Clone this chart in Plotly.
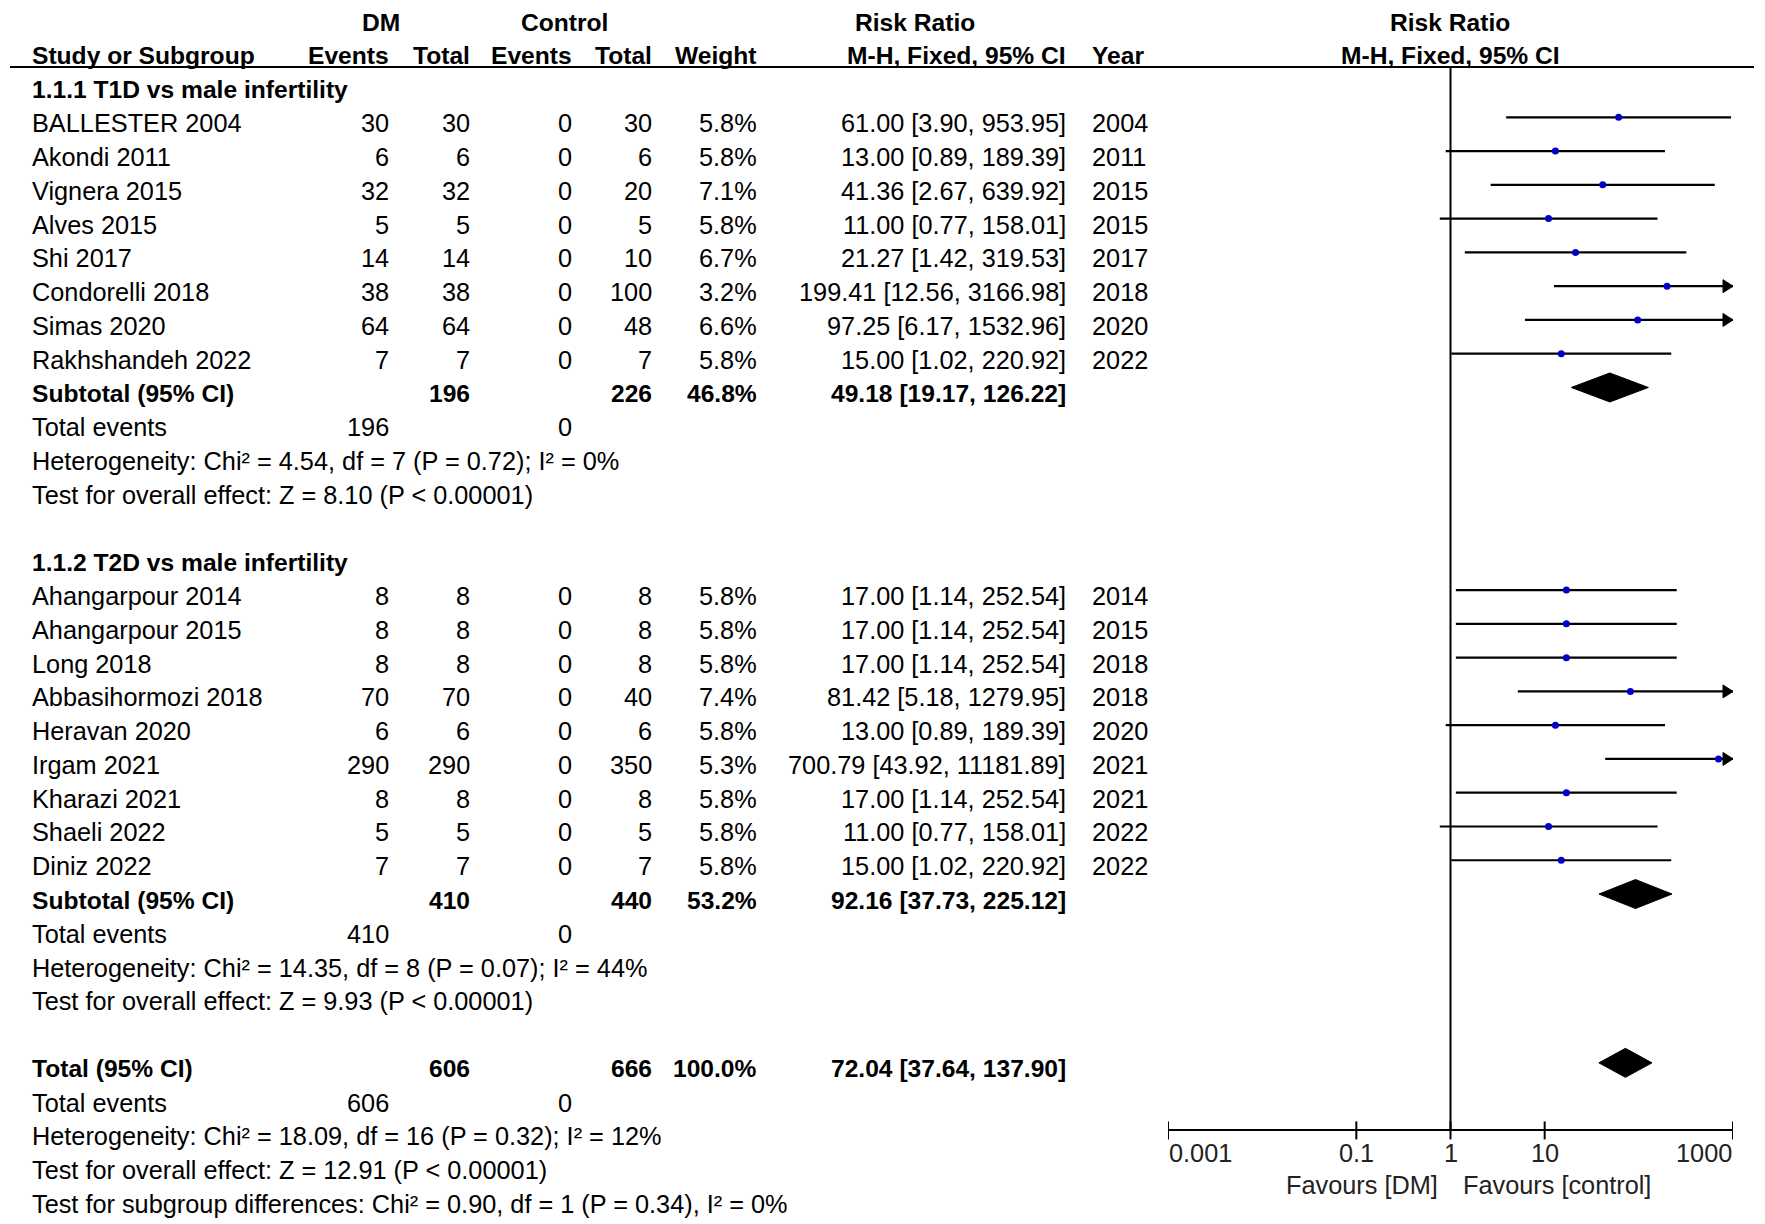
import math
import plotly.graph_objects as go

# ---------------- data ----------------
group_titles = ["1.1.1 T1D vs male infertility", "1.1.2 T2D vs male infertility"]

names_t1d = ["BALLESTER 2004", "Akondi 2011", "Vignera 2015", "Alves 2015", "Shi 2017",
             "Condorelli 2018", "Simas 2020", "Rakhshandeh 2022"]
dm_events_t1d = [30, 6, 32, 5, 14, 38, 64, 7]
dm_total_t1d = [30, 6, 32, 5, 14, 38, 64, 7]
ctrl_events_t1d = [0, 0, 0, 0, 0, 0, 0, 0]
ctrl_total_t1d = [30, 6, 20, 5, 10, 100, 48, 7]
weight_t1d = [5.8, 5.8, 7.1, 5.8, 6.7, 3.2, 6.6, 5.8]
rr_t1d = [61.00, 13.00, 41.36, 11.00, 21.27, 199.41, 97.25, 15.00]
lo_t1d = [3.90, 0.89, 2.67, 0.77, 1.42, 12.56, 6.17, 1.02]
hi_t1d = [953.95, 189.39, 639.92, 158.01, 319.53, 3166.98, 1532.96, 220.92]
year_t1d = [2004, 2011, 2015, 2015, 2017, 2018, 2020, 2022]

names_t2d = ["Ahangarpour 2014", "Ahangarpour 2015", "Long 2018", "Abbasihormozi 2018",
             "Heravan 2020", "Irgam 2021", "Kharazi 2021", "Shaeli 2022", "Diniz 2022"]
dm_events_t2d = [8, 8, 8, 70, 6, 290, 8, 5, 7]
dm_total_t2d = [8, 8, 8, 70, 6, 290, 8, 5, 7]
ctrl_events_t2d = [0, 0, 0, 0, 0, 0, 0, 0, 0]
ctrl_total_t2d = [8, 8, 8, 40, 6, 350, 8, 5, 7]
weight_t2d = [5.8, 5.8, 5.8, 7.4, 5.8, 5.3, 5.8, 5.8, 5.8]
rr_t2d = [17.00, 17.00, 17.00, 81.42, 13.00, 700.79, 17.00, 11.00, 15.00]
lo_t2d = [1.14, 1.14, 1.14, 5.18, 0.89, 43.92, 1.14, 0.77, 1.02]
hi_t2d = [252.54, 252.54, 252.54, 1279.95, 189.39, 11181.89, 252.54, 158.01, 220.92]
year_t2d = [2014, 2015, 2018, 2018, 2020, 2021, 2021, 2022, 2022]

# subtotals: [T1D, T2D]
sub_dm_total = [196, 410]
sub_ctrl_total = [226, 440]
sub_weight = [46.8, 53.2]
sub_rr = [49.18, 92.16]
sub_lo = [19.17, 37.73]
sub_hi = [126.22, 225.12]
sub_dm_events = [196, 410]
sub_ctrl_events = [0, 0]
sub_het = ["Heterogeneity: Chi² = 4.54, df = 7 (P = 0.72); I² = 0%",
           "Heterogeneity: Chi² = 14.35, df = 8 (P = 0.07); I² = 44%"]
sub_effect = ["Test for overall effect: Z = 8.10 (P &lt; 0.00001)",
              "Test for overall effect: Z = 9.93 (P &lt; 0.00001)"]

total_dm_total = 606
total_ctrl_total = 666
total_weight = 100.0
total_rr = 72.04
total_lo = 37.64
total_hi = 137.90
total_dm_events = 606
total_ctrl_events = 0
total_het = "Heterogeneity: Chi² = 18.09, df = 16 (P = 0.32); I² = 12%"
total_effect = "Test for overall effect: Z = 12.91 (P &lt; 0.00001)"
total_subgroup = "Test for subgroup differences: Chi² = 0.90, df = 1 (P = 0.34), I² = 0%"

tick_values = [0.001, 0.1, 1, 10, 1000]
tick_labels = ["0.001", "0.1", "1", "10", "1000"]
favours_left = "Favours [DM]"
favours_right = "Favours [control]"

# ---------------- layout constants ----------------
W, H = 1765, 1224
ROW = 33.77          # pixels per row
TOP = 16.0           # pixel of row-0 marker centre
TEXT_DY = 6.0 / ROW  # text sits a little lower than the marks
AX_LEFT, AX_RIGHT = 1168, 1733
LOG_MIN, LOG_MAX = -3, 3
PX_PER_DEC = (AX_RIGHT - AX_LEFT) / (LOG_MAX - LOG_MIN)
FONT = "Liberation Sans, Arial, Helvetica, sans-serif"
REG = 25.3
BLD = 24.6

COL_STUDY = 31
COL_DM_EV = 390
COL_DM_TOT = 471
COL_CT_EV = 573
COL_CT_TOT = 653
COL_W = 758
COL_RR = 1067
COL_RR_HDR = 854
COL_YEAR = 1091

annotations = []


def txt(xpx, k, text, anchor="left", bold=False, color="#000000", size=None, dy=TEXT_DY):
    annotations.append(dict(
        x=xpx / W, xref="paper", y=k + dy, yref="y", text=text, showarrow=False,
        xanchor=anchor, yanchor="middle", borderpad=0,
        font=dict(family=FONT, size=size or (BLD if bold else REG), color=color,
                  weight="bold" if bold else "normal")))


def ci_text(r, l, h):
    return f"{r:.2f} [{l:.2f}, {h:.2f}]"


# headers
txt(380.5, 0, "DM", "center", True)
txt(564, 0, "Control", "center", True)
txt(COL_RR_HDR, 0, "Risk Ratio", "left", True)
txt(1450, 0, "Risk Ratio", "center", True)
txt(COL_STUDY, 1, "Study or Subgroup", "left", True)
txt(COL_DM_EV, 1, "Events", "right", True)
txt(COL_DM_TOT, 1, "Total", "right", True)
txt(COL_CT_EV, 1, "Events", "right", True)
txt(COL_CT_TOT, 1, "Total", "right", True)
txt(COL_W, 1, "Weight", "right", True)
txt(COL_RR, 1, "M-H, Fixed, 95% CI", "right", True)
txt(COL_YEAR, 1, "Year", "left", True)
txt(1450, 1, "M-H, Fixed, 95% CI", "center", True)

groups = [
    (names_t1d, dm_events_t1d, dm_total_t1d, ctrl_events_t1d, ctrl_total_t1d,
     weight_t1d, rr_t1d, lo_t1d, hi_t1d, year_t1d),
    (names_t2d, dm_events_t2d, dm_total_t2d, ctrl_events_t2d, ctrl_total_t2d,
     weight_t2d, rr_t2d, lo_t2d, hi_t2d, year_t2d),
]

study_rows, study_rr, study_lo, study_hi = [], [], [], []
diamonds = []  # (row, rr, lo, hi)

k = 2
for gi, g in enumerate(groups):
    names, dev, dtot, cev, ctot, wt, rr, lo, hi, yr = g
    txt(COL_STUDY, k, group_titles[gi], "left", True)
    k += 1
    for i in range(len(names)):
        txt(COL_STUDY, k, names[i])
        txt(COL_DM_EV, k, str(dev[i]), "right")
        txt(COL_DM_TOT, k, str(dtot[i]), "right")
        txt(COL_CT_EV, k, str(cev[i]), "right")
        txt(COL_CT_TOT, k, str(ctot[i]), "right")
        txt(COL_W, k, f"{wt[i]:.1f}%", "right")
        txt(COL_RR, k, ci_text(rr[i], lo[i], hi[i]), "right")
        txt(COL_YEAR, k, str(yr[i]), "left")
        study_rows.append(k)
        study_rr.append(rr[i])
        study_lo.append(lo[i])
        study_hi.append(hi[i])
        k += 1
    txt(COL_STUDY, k, "Subtotal (95% CI)", "left", True)
    txt(COL_DM_TOT, k, str(sub_dm_total[gi]), "right", True)
    txt(COL_CT_TOT, k, str(sub_ctrl_total[gi]), "right", True)
    txt(COL_W, k, f"{sub_weight[gi]:.1f}%", "right", True)
    txt(COL_RR, k, ci_text(sub_rr[gi], sub_lo[gi], sub_hi[gi]), "right", True)
    diamonds.append((k, sub_rr[gi], sub_lo[gi], sub_hi[gi]))
    k += 1
    txt(COL_STUDY, k, "Total events")
    txt(COL_DM_EV, k, str(sub_dm_events[gi]), "right")
    txt(COL_CT_EV, k, str(sub_ctrl_events[gi]), "right")
    k += 1
    txt(COL_STUDY, k, sub_het[gi])
    k += 1
    txt(COL_STUDY, k, sub_effect[gi])
    k += 2

txt(COL_STUDY, k, "Total (95% CI)", "left", True)
txt(COL_DM_TOT, k, str(total_dm_total), "right", True)
txt(COL_CT_TOT, k, str(total_ctrl_total), "right", True)
txt(COL_W, k, f"{total_weight:.1f}%", "right", True)
txt(COL_RR, k, ci_text(total_rr, total_lo, total_hi), "right", True)
diamonds.append((k, total_rr, total_lo, total_hi))
k += 1
txt(COL_STUDY, k, "Total events")
txt(COL_DM_EV, k, str(total_dm_events), "right")
txt(COL_CT_EV, k, str(total_ctrl_events), "right")
k += 1
AX_ROW = k  # axis sits on this row
txt(COL_STUDY, k, total_het)
k += 1
txt(COL_STUDY, k, total_effect)
k += 1
txt(COL_STUDY, k, total_subgroup)

# ---------------- forest marks ----------------
xmax = 10 ** LOG_MAX
xmin = 10 ** LOG_MIN
arrow_base = 10 ** (LOG_MAX - 10 / PX_PER_DEC)
ARROW_H = 6.5 / ROW
DIAM_H = 14.5 / ROW

ci_x, ci_y = [], []
arr_x, arr_y = [], []
for r, l, h in zip(study_rows, study_lo, study_hi):
    ci_x += [max(l, xmin), min(h, xmax), None]
    ci_y += [r, r, None]
    if h > xmax:
        arr_x += [arrow_base, xmax, arrow_base, arrow_base, None]
        arr_y += [r - ARROW_H, r, r + ARROW_H, r - ARROW_H, None]

fig = go.Figure()

# vertical line of no effect
HDR_ROW = (67 - TOP) / ROW
fig.add_trace(go.Scatter(x=[1, 1], y=[HDR_ROW, AX_ROW], mode="lines",
                         line=dict(color="#000000", width=2), hoverinfo="skip"))

fig.add_trace(go.Scatter(x=ci_x, y=ci_y, mode="lines",
                         line=dict(color="#000000", width=2.2), hoverinfo="skip"))
fig.add_trace(go.Scatter(x=arr_x, y=arr_y, mode="lines", fill="toself",
                         fillcolor="#000000", line=dict(color="#000000", width=1),
                         hoverinfo="skip"))
fig.add_trace(go.Scatter(x=study_rr, y=study_rows, mode="markers",
                         marker=dict(color="#0000CC", size=7, symbol="circle"),
                         hoverinfo="skip"))

for (r, est, l, h) in diamonds:
    fig.add_trace(go.Scatter(x=[l, est, h, est, l], y=[r, r - DIAM_H, r, r + DIAM_H, r],
                             mode="lines", fill="toself", fillcolor="#000000",
                             line=dict(color="#000000", width=1), hoverinfo="skip"))

# crossing axis ticks (drawn above and below the axis line)
TICK_UP = 9 / ROW
TICK_DN = 9 / ROW
tk_x, tk_y = [], []
for v in tick_values:
    tk_x += [v, v, None]
    tk_y += [AX_ROW - TICK_UP, AX_ROW + TICK_DN, None]
fig.add_trace(go.Scatter(x=tk_x, y=tk_y, mode="lines",
                         line=dict(color="#000000", width=2), hoverinfo="skip"))

axis_px = TOP + AX_ROW * ROW

# tick labels (end labels kept inside the axis span, as in RevMan)
TICK_LBL_ROW = AX_ROW + 23 / ROW
for i, (v, lab) in enumerate(zip(tick_values, tick_labels)):
    anchor = "left" if i == 0 else ("right" if i == len(tick_values) - 1 else "center")
    annotations.append(dict(x=math.log10(v), xref="x", y=TICK_LBL_ROW, yref="y", text=lab,
                            showarrow=False, xanchor=anchor, yanchor="middle", borderpad=0,
                            font=dict(family=FONT, size=REG, color="#222222")))

# favours labels
FAV_ROW = AX_ROW + 55 / ROW
annotations.append(dict(x=math.log10(1), xref="x", y=FAV_ROW, yref="y", text=favours_left,
                        showarrow=False, xanchor="right", yanchor="middle", xshift=-12,
                        borderpad=0, font=dict(family=FONT, size=REG, color="#222222")))
annotations.append(dict(x=math.log10(1), xref="x", y=FAV_ROW, yref="y", text=favours_right,
                        showarrow=False, xanchor="left", yanchor="middle", xshift=11,
                        borderpad=0, font=dict(family=FONT, size=REG, color="#222222")))

header_line_y = HDR_ROW
shapes = [dict(type="line", xref="paper", yref="y", x0=10 / W, x1=1754 / W,
               y0=header_line_y, y1=header_line_y, line=dict(color="#000000", width=2))]

y_top = -TOP / ROW
y_bot = (H - TOP) / ROW

fig.update_layout(
    template="none",
    width=W, height=H,
    margin=dict(l=0, r=0, t=0, b=0, pad=0, autoexpand=False),
    paper_bgcolor="white", plot_bgcolor="white", showlegend=False,
    annotations=annotations, shapes=shapes,
    xaxis=dict(type="log", range=[LOG_MIN, LOG_MAX],
               domain=[AX_LEFT / W, AX_RIGHT / W], anchor="free",
               position=1 - axis_px / H, automargin=False,
               showline=True, linecolor="#000000", linewidth=2,
               ticks="", showticklabels=False,
               showgrid=False, zeroline=False, fixedrange=True),
    yaxis=dict(range=[y_bot, y_top], domain=[0, 1], visible=False, automargin=False,
               showgrid=False, zeroline=False, fixedrange=True),
)

fig.write_html("out.html", config={"displayModeBar": False, "staticPlot": True},
               post_script="document.body.style.margin='0';document.body.style.overflow='hidden';")
